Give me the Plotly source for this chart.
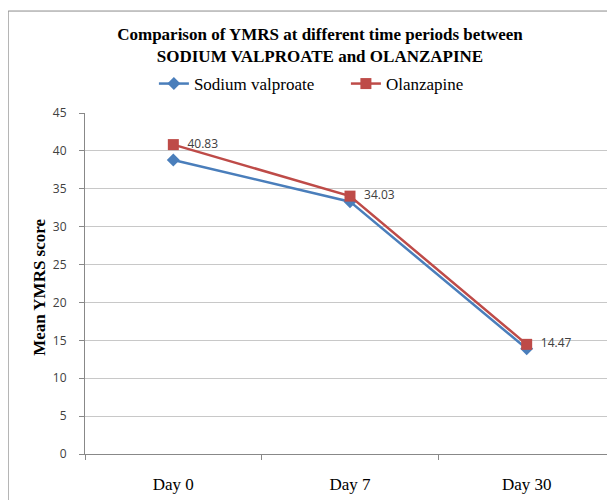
import plotly.graph_objects as go

categories = ["Day 0", "Day 7", "Day 30"]
valproate = [38.8, 33.3, 13.9]
olanzapine = [40.83, 34.03, 14.47]
olanzapine_labels = ["40.83", "34.03", "14.47"]
y_ticks = [0, 5, 10, 15, 20, 25, 30, 35, 40, 45]

SERIF = "Liberation Serif"
SANS = "Open Sans"

fig = go.Figure()
fig.add_trace(go.Scatter(
    x=categories, y=valproate, name="Sodium valproate",
    mode="lines+markers",
    line=dict(color="#4A7EBB", width=2.5),
    marker=dict(symbol="diamond", size=10, color="#4A7EBB"),
))
fig.add_trace(go.Scatter(
    x=categories, y=olanzapine, name="Olanzapine",
    mode="lines+markers+text",
    text=olanzapine_labels, texttemplate="\u00a0\u00a0%{text}",
    textposition="middle right",
    textfont=dict(family=SANS, size=12, color="#404040"),
    line=dict(color="#BE4B48", width=2.5),
    marker=dict(symbol="square", size=11, color="#BE4B48"),
))

fig.update_layout(
    width=607, height=492,
    margin=dict(l=77, r=0, t=105, b=46, autoexpand=False),
    paper_bgcolor="white", plot_bgcolor="white",
    font=dict(family=SERIF, size=17, color="black"),
    title=dict(
        text="<b>Comparison of YMRS at different time periods between<br>SODIUM VALPROATE and OLANZAPINE</b>",
        x=0.514, xanchor="center", y=0.935, yanchor="middle",
        font=dict(family=SERIF, size=17, color="black"),
    ),
    legend=dict(
        orientation="h", x=0.13, xanchor="left", y=1.085, yanchor="middle",
        entrywidth=147, entrywidthmode="pixels",
        font=dict(family=SERIF, size=17, color="black"),
    ),
    showlegend=True,
)

fig.update_xaxes(
    type="category", range=[-0.5, 2.5],
    showline=True, linecolor="#888888", linewidth=1,
    ticks="outside", tickson="boundaries", ticklen=5, tickcolor="#888888",
    showgrid=False,
    tickfont=dict(family=SERIF, size=17, color="black"),
    ticklabelstandoff=15,
    automargin=False,
)
fig.update_yaxes(
    range=[0, 45], tickvals=y_ticks,
    showline=True, linecolor="#888888", linewidth=1,
    ticks="outside", ticklen=5, tickcolor="#888888",
    showgrid=True, gridcolor="#C8C8C8", gridwidth=1,
    tickfont=dict(family=SANS, size=12, color="#404040"),
    ticklabelstandoff=10,
    zeroline=False,
    automargin=False,
)

fig.add_annotation(
    text="<b>Mean YMRS score</b>", textangle=-90,
    xref="paper", yref="paper", x=-0.085, y=0.49,
    xanchor="center", yanchor="middle", showarrow=False,
    font=dict(family=SERIF, size=17, color="black"),
)

fig.add_shape(
    type="rect", xref="paper", yref="paper",
    x0=-0.145, y0=-0.3, x1=1.2, y1=1.299,
    line=dict(color="#8C8C8C", width=1), fillcolor="rgba(0,0,0,0)",
    layer="below",
)

fig.write_html("out.html")
